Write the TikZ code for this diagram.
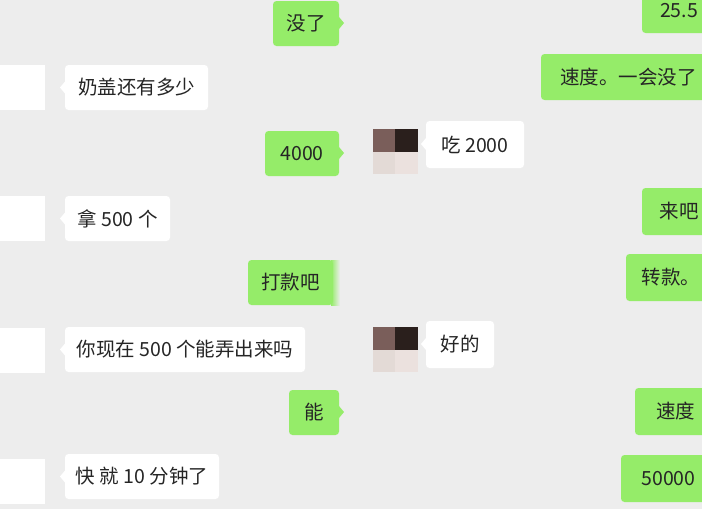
\documentclass[tikz,border=0pt]{standalone}
\usepackage{fontspec}
\setmainfont{Noto Sans CJK SC}
\definecolor{bg}{HTML}{EDEDED}
\definecolor{grn}{HTML}{95EC69}
\definecolor{txt}{HTML}{252525}
\definecolor{pa}{HTML}{7A5E5A}
\definecolor{pb}{HTML}{2A1F1C}
\definecolor{pc}{HTML}{E3DAD6}
\definecolor{pd}{HTML}{EBE1DE}
\tikzset{
  bubble/.style={rounded corners=3.5pt,inner sep=0pt,text=txt,font=\fontsize{19.5pt}{22pt}\selectfont,anchor=center},
  gb/.style={bubble,fill=grn},
  wb/.style={bubble,fill=white},
  ava/.style={fill=white,inner sep=0pt,minimum width=45pt,minimum height=45pt,anchor=north west},
  px/.style={inner sep=0pt,minimum width=22pt,minimum height=22.5pt,anchor=north west},
}
\newcommand{\bub}[7]{% style,name,x1,y1,x2,y2,text
  \pgfmathsetmacro{\bw}{#5-#3}\pgfmathsetmacro{\bh}{#6-#4}
  \pgfmathsetmacro{\bx}{(#3+#5)/2}\pgfmathsetmacro{\by}{(#4+#6)/2}
  \node[#1,minimum width=\bw pt,minimum height=\bh pt] (#2) at (\bx,\by) {#7};}
\newcommand{\avatar}[2]{%
  \node[px,fill=pa] (#1a) at (373,#2) {};
  \node[px,fill=pb,minimum width=23pt] (#1b) at (395,#2) {};
  \node[px,fill=pc] (#1c) at (373,#2+22.5) {};
  \node[px,fill=pd,minimum width=23pt] (#1d) at (395,#2+22.5) {};}
\begin{document}
\begin{tikzpicture}[x=1pt,y=-1pt]
\useasboundingbox (0,0) rectangle (702,525);
\clip (0,0) rectangle (702,525);
\fill[bg] (0,0) rectangle (702,509);
\fill[white] (0,509) rectangle (702,525);
% left avatars
\node[ava] (a1) at (0,65) {};
\node[ava] (a2) at (0,196) {};
\node[ava] (a3) at (0,328) {};
\node[ava] (a4) at (0,459) {};
\avatar{p1}{129}
\avatar{p2}{327}
% green tails
\fill[grn] (339,17) -- (344,23) -- (339,29) -- cycle;
\fill[grn] (339,147) -- (344,153) -- (339,159) -- cycle;
\fill[grn] (339,406) -- (344,412) -- (339,418) -- cycle;
% white tails
\foreach \x/\y in {65/87.5,426/144,65/218.5,65/349.5,426/344,65/476.5}
  \fill[white] (\x,\y-6) -- (\x-5,\y) -- (\x,\y+6) -- cycle;
% soft edge of the cut bubble
\shade[left color=grn,right color=bg] (331,260) rectangle (340,305);
% green bubbles
\bub{gb}{g1}{273}{1}{339}{46}{没了}
\bub{gb}{g2}{642}{-12}{716}{33}{\raisebox{-3pt}{25.5}\hspace{14pt}}
\bub{gb}{g3}{541}{54}{716}{100}{速度。一会没了\hspace{14pt}}
\bub{gb}{g4}{265}{131}{339}{176}{4000}
\bub{gb}{g5}{642}{188}{716}{235}{来吧\hspace{14pt}}
\bub{gb}{g6}{248}{260}{333}{305}{打款吧}
\bub{gb}{g7}{626}{254}{716}{301}{转款。\hspace{14pt}}
\bub{gb}{g8}{289}{390}{339}{435}{能}
\bub{gb}{g9}{635}{388}{716}{435}{速度\hspace{14pt}}
\bub{gb}{g10}{621}{455}{716}{502}{50000\hspace{14pt}}
% white bubbles
\bub{wb}{w1}{65}{65}{208}{110}{奶盖还有多少}
\bub{wb}{w2}{426}{121}{524}{168}{吃 2000}
\bub{wb}{w3}{65}{196}{170}{241}{拿 500 个}
\bub{wb}{w4}{65}{327}{305}{372}{你现在 500 个能弄出来吗}
\bub{wb}{w5}{426}{321}{494}{368}{好的}
\bub{wb}{w6}{65}{454}{219}{499}{快 就 10 分钟了}
\end{tikzpicture}
\end{document}
